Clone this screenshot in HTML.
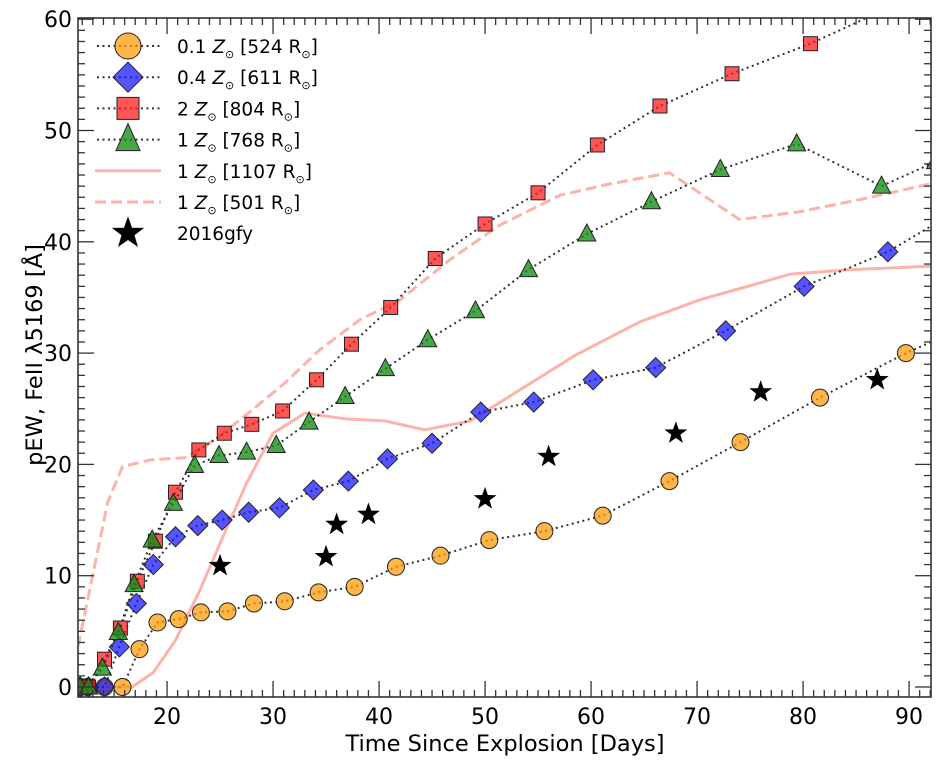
<!DOCTYPE html>
<html><head><meta charset="utf-8"><style>
html,body{margin:0;padding:0;background:#fff}
svg{display:block;font-family:"DejaVu Sans","Liberation Sans",sans-serif}
</style></head><body>
<svg id="chart" width="941" height="764" viewBox="0 0 941 764" xmlns="http://www.w3.org/2000/svg">
<defs><clipPath id="clip"><rect x="78" y="18" width="853" height="679"/></clipPath></defs>
<g id="plot" clip-path="url(#clip)"></g>
<g id="axes"></g>
<g id="legend"></g>
</svg>
<script>
const circX=[11.8,12.5,14.1,15.8,17.4,19.1,21.1,23.2,25.7,28.2,31.1,34.3,37.7,41.6,45.8,50.4,55.6,61.1,67.4,74.1,81.6,89.7,94];
const circY=[0,0,0,0,3.4,5.8,6.1,6.7,6.8,7.5,7.7,8.5,9.0,10.8,11.8,13.2,14,15.4,18.5,22,26,30,31.8];
const diaX=[11.8,12.6,14.1,15.5,17.1,18.7,20.8,22.9,25.2,27.7,30.6,33.8,37.1,40.8,45.0,49.6,54.6,60.2,66.1,72.7,80.1,88.0,94];
const diaY=[0,0,0,3.6,7.5,11.0,13.5,14.5,15.0,15.7,16.1,17.7,18.5,20.5,21.9,24.7,25.6,27.6,28.7,32,36,39.1,42.5];
const sqX=[11.8,12.6,14.1,15.6,17.2,18.9,20.8,23.0,25.4,28.0,30.9,34.1,37.4,41.1,45.3,50.0,55.0,60.6,66.5,73.3,80.7,88];
const sqY=[0,0,2.5,5.3,9.5,13.1,17.5,21.3,22.8,23.6,24.8,27.6,30.8,34.1,38.5,41.6,44.4,48.7,52.2,55.1,57.8,61];
const triX=[11.8,12.6,13.9,15.4,16.9,18.6,20.6,22.6,24.9,27.5,30.3,33.4,36.8,40.6,44.6,49.1,54.1,59.6,65.7,72.2,79.4,87.4,92.5];
const triY=[0,0,1.7,4.9,9.2,13.2,16.5,19.9,20.8,21.1,21.7,23.8,26.1,28.6,31.2,33.8,37.5,40.7,43.6,46.5,48.8,45,47.2];
const solidX=[11.8,16.7,18.7,20.8,23.1,25.5,27.5,30.0,33.0,36.8,40.6,44.3,48.6,53.3,58.5,64.6,70.3,75.9,78.8,84.4,92];
const solidY=[0,0,1.3,4.2,8.7,14,18.3,22.8,24.6,24.1,23.9,23.1,23.9,26.7,29.8,32.8,34.8,36.3,37.1,37.5,37.8];
const dashX=[11.6,14.4,15.8,18.4,21.7,24.5,27.4,31.1,34.4,38.2,42.0,46.7,51.4,57.1,61.8,67.4,74.0,79.7,85.4,92];
const dashY=[3.6,16.6,19.8,20.4,20.6,22.2,24.4,27.3,30.3,33.0,34.8,38.4,41.5,44.2,45.2,46.2,42.0,42.7,43.8,45.2];
const starX=[25,35,36,39,50,56,68,76,87];
const starY=[10.9,11.7,14.6,15.5,16.9,20.7,22.8,26.5,27.6];
const xTicks=[20,30,40,50,60,70,80,90];
const yTicks=[0,10,20,30,40,50,60];
const legendLabels=["0.1","0.4","2","1","1","1"];
const legendRadii=["524","611","804","768","1107","501"];

const X0=11.6,X1=92.07,PL=78,PR=931,PT=18,PB=697;
const sx=v=>PL+(v-X0)*(PR-PL)/(X1-X0);
const sy=v=>687-v*11.13;
const NS="http://www.w3.org/2000/svg";
function mk(tag,attrs,parent){const e=document.createElementNS(NS,tag);for(const k in attrs)e.setAttribute(k,attrs[k]);parent.appendChild(e);return e;}
const plot=document.getElementById('plot'),axes=document.getElementById('axes'),leg=document.getElementById('legend');

const cols={c:"rgba(255,153,0,0.72)",d:"rgba(20,20,255,0.72)",s:"rgba(255,20,20,0.72)",t:"rgba(20,140,20,0.78)"};
function marker(type,cx,cy,parent){
  let e;
  if(type==='c') e=mk('circle',{cx,cy,r:8.5},parent);
  else if(type==='d') e=mk('polygon',{points:`${cx},${cy-10} ${cx+10},${cy} ${cx},${cy+10} ${cx-10},${cy}`},parent);
  else if(type==='s') e=mk('rect',{x:cx-7,y:cy-7,width:14,height:14},parent);
  else e=mk('polygon',{points:`${cx},${cy-10} ${cx+9},${cy+7} ${cx-9},${cy+7}`},parent);
  e.setAttribute('fill',cols[type]);e.setAttribute('stroke','#222');e.setAttribute('stroke-width','1');
  return e;
}
function star(cx,cy,R,parent){let p=[];for(let i=0;i<10;i++){const r=i%2?R*0.4:R;const a=-Math.PI/2+i*Math.PI/5;p.push((cx+r*Math.cos(a)).toFixed(1)+","+(cy+r*Math.sin(a)).toFixed(1));}
  return mk('polygon',{points:p.join(' '),fill:'#000'},parent);}
const pts=(xs,ys)=>xs.map((v,i)=>sx(v).toFixed(1)+","+sy(ys[i]).toFixed(1)).join(' ');

let l=mk('polyline',{points:pts(solidX,solidY),fill:'none',stroke:'#fa8072','stroke-opacity':0.6,'stroke-width':3},plot);

l=mk('polyline',{points:pts(dashX,dashY),fill:'none',stroke:'#fa8072','stroke-opacity':0.6,'stroke-width':3,'stroke-dasharray':'11,5'},plot);

const series=[['c',circX,circY,'series-0.1zsun-524'],['d',diaX,diaY,'series-0.4zsun-611'],['s',sqX,sqY,'series-2zsun-804'],['t',triX,triY,'series-1zsun-768']];
for(const [t,xs,ys,name] of series){
  const g=mk('g',{},plot);
  
  
  mk('polyline',{points:pts(xs,ys),fill:'none',stroke:'#333','stroke-width':2,'stroke-dasharray':'2,3.5'},g);
  xs.forEach((v,i)=>{const m=marker(t,sx(v),sy(ys[i]),g);
    
    });
}
starX.forEach((v,i)=>{const s=star(sx(v),sy(starY[i]),12,plot);
  
  });

const fr=mk('rect',{x:PL,y:PT,width:PR-PL,height:PB-PT,fill:'none',stroke:'#333','stroke-width':1.6},axes);

for(let v=12;v<=92;v++){const x=sx(v),maj=v%10===0,L=maj?16:7;
  mk('line',{x1:x,y1:PB,x2:x,y2:PB-L,stroke:'#333','stroke-width':1.3},axes);
  mk('line',{x1:x,y1:PT,x2:x,y2:PT+L,stroke:'#333','stroke-width':1.3},axes);}
for(let v=0;v<=60;v++){const y=sy(v),maj=v%10===0,L=maj?16:7;
  mk('line',{x1:PL,y1:y,x2:PL+L,y2:y,stroke:'#333','stroke-width':1.3},axes);
  mk('line',{x1:PR,y1:y,x2:PR-L,y2:y,stroke:'#333','stroke-width':1.3},axes);}
xTicks.forEach(v=>{const t=mk('text',{x:sx(v),y:724,'font-size':22,'text-anchor':'middle',fill:'#000'},axes);t.textContent=v;
  });
yTicks.forEach(v=>{const t=mk('text',{x:72,y:sy(v)+8,'font-size':22,'text-anchor':'end',fill:'#000'},axes);t.textContent=v;
  });
let t=mk('text',{x:505,y:751,'font-size':22.5,'text-anchor':'middle',fill:'#000'},axes);t.textContent='Time Since Explosion [Days]';

t=mk('text',{x:0,y:0,'font-size':22.5,'text-anchor':'middle',fill:'#000',transform:'translate(42,355) rotate(-90)'},axes);t.textContent='pEW, FeII λ5169 [Å]';


const types=['c','d','s','t'];
for(let i=0;i<7;i++){
  const y=46+i*31.2;const g=mk('g',{},leg);
  
  
  if(i<4){mk('line',{x1:97,y1:y,x2:160,y2:y,stroke:'#333','stroke-width':2,'stroke-dasharray':'2,3.5'},g);
    const m=marker(types[i],128,y,g);
    if(types[i]==='c'){m.setAttribute('r',13);}
    if(types[i]==='d'){m.setAttribute('points',`128,${y-15} 143,${y} 128,${y+15} 113,${y}`);}
    if(types[i]==='s'){m.setAttribute('x',117);m.setAttribute('y',y-11);m.setAttribute('width',22);m.setAttribute('height',22);}
    if(types[i]==='t'){m.setAttribute('points',`128,${y-16} 140,${y+11} 116,${y+11}`);}}
  else if(i<6){mk('line',{x1:95,y1:y,x2:161,y2:y,stroke:'#fa8072','stroke-opacity':0.6,'stroke-width':3,'stroke-dasharray':i==5?'11,5':'none'},g);}
  else star(128,y,17,g);
  const tx=mk('text',{x:177,y:y+7,'font-size':18.5,fill:'#000'},g);
  if(i<6){tx.innerHTML=legendLabels[i]+' <tspan font-style="italic">Z</tspan><tspan font-size="11" dy="5">⊙</tspan><tspan dy="-5"> ['+legendRadii[i]+' R</tspan><tspan font-size="11" dy="5">⊙</tspan><tspan dy="-5">]</tspan>';}
  else tx.textContent='2016gfy';
}
</script>
</body></html>
